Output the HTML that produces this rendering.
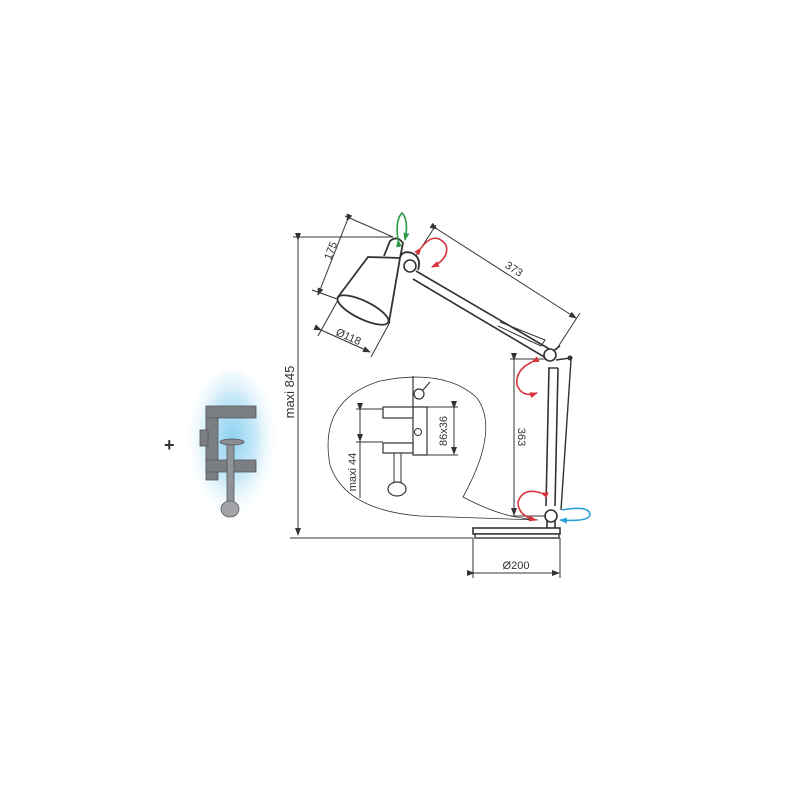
<!DOCTYPE html>
<html><head><meta charset="utf-8"><style>
html,body{margin:0;padding:0;background:#fff;width:800px;height:800px;overflow:hidden}
text{font-family:"Liberation Sans",sans-serif;fill:#333}
</style></head><body>
<svg width="800" height="800" viewBox="0 0 800 800" xmlns="http://www.w3.org/2000/svg">
<defs>
<radialGradient id="glow" cx="50%" cy="40%" r="50%">
<stop offset="0" stop-color="#8ed2f2"/><stop offset="0.5" stop-color="#c8e9f8"/><stop offset="1" stop-color="#fff" stop-opacity="0"/>
</radialGradient>
<marker id="ah" markerWidth="8" markerHeight="6" refX="7" refY="3" orient="auto" markerUnits="userSpaceOnUse"><path d="M0,0 L8,3 L0,6z" fill="#333"/></marker>
<marker id="ar" markerWidth="8" markerHeight="6" refX="7" refY="3" orient="auto" markerUnits="userSpaceOnUse"><path d="M0,0 L8,3 L0,6z" fill="#d8323c"/></marker>
<marker id="ag" markerWidth="8" markerHeight="6" refX="7" refY="3" orient="auto" markerUnits="userSpaceOnUse"><path d="M0,0 L8,3 L0,6z" fill="#2a9a48"/></marker>
<marker id="ab" markerWidth="8" markerHeight="6" refX="7" refY="3" orient="auto" markerUnits="userSpaceOnUse"><path d="M0,0 L8,3 L0,6z" fill="#2aa0d8"/></marker>
</defs>

<!-- clamp photo -->
<ellipse cx="232" cy="455" rx="48" ry="85" fill="url(#glow)"/>
<text x="164" y="451" font-size="18" font-weight="bold" fill="#333">+</text>
<g fill="#7b7e82" stroke="#55585c" stroke-width="0.8">
<rect x="206" y="408" width="12" height="72"/>
<rect x="206" y="406" width="50" height="12"/>
<rect x="206" y="460" width="50" height="12"/>
<rect x="200" y="430" width="8" height="16"/>
<rect x="227" y="442" width="7" height="66" fill="#8f9296"/>
<ellipse cx="230" cy="509" rx="9" ry="8" fill="#a2a4a8"/>
<ellipse cx="232" cy="442" rx="12" ry="3" fill="#8a8c90"/>
</g>

<g stroke="#333" stroke-width="1" fill="none">
<line x1="293" y1="237" x2="393" y2="237"/>
<line x1="290" y1="538" x2="473" y2="538"/>
<line x1="298" y1="240" x2="298" y2="535" marker-start="url(#ah)" marker-end="url(#ah)"/>

<line x1="345" y1="216" x2="393" y2="237"/>
<line x1="312" y1="290" x2="340" y2="300"/>
<line x1="347" y1="221" x2="318" y2="295" marker-start="url(#ah)" marker-end="url(#ah)"/>
<line x1="338" y1="300" x2="318" y2="336"/>
<line x1="390" y1="322" x2="371" y2="357"/>
<line x1="321" y1="330" x2="370" y2="352" marker-start="url(#ah)" marker-end="url(#ah)"/>
<line x1="412" y1="262" x2="436" y2="225"/>
<line x1="556" y1="350" x2="580" y2="313"/>
<line x1="437" y1="229" x2="576" y2="318" marker-start="url(#ah)" marker-end="url(#ah)"/>

<path d="M384,256 L390,241 Q397,235 403,243 L400,258" stroke-width="1.8" fill="#fff"/>
<path d="M368,257 L400,258 L389,322 L338,297 Z" stroke-width="1.8" fill="#fff"/>
<ellipse cx="363" cy="310" rx="28" ry="9" transform="rotate(26 363 310)" stroke-width="1.8" fill="#fff"/>
<path d="M400,258 Q402,250 412,253 Q422,258 418,270" stroke-width="1.8" fill="#fff"/>
<circle cx="410" cy="266" r="6" stroke-width="1.6" fill="#fff"/>
<line x1="416" y1="271" x2="551" y2="350" stroke-width="1.6"/>
<line x1="413" y1="279" x2="546" y2="358" stroke-width="1.6"/>
<path d="M500,322 L545,340 L541,346 L498,326" stroke-width="1"/>
<circle cx="550" cy="355" r="6" stroke-width="1.6" fill="#fff"/>
<line x1="553" y1="351" x2="560" y2="346" stroke-width="1.6"/>
<line x1="556" y1="360" x2="570" y2="358" stroke-width="1.6"/>
<circle cx="570" cy="358" r="2" fill="#333"/>
<line x1="549" y1="368" x2="546" y2="506" stroke-width="1.6"/>
<line x1="558" y1="368" x2="555" y2="506" stroke-width="1.6"/>
<line x1="571" y1="360" x2="561" y2="510" stroke-width="1.4"/>
<line x1="548" y1="368" x2="558" y2="368" stroke-width="1.4"/>
<circle cx="551" cy="516" r="6" stroke-width="1.6" fill="#fff"/>
<line x1="547" y1="521" x2="547" y2="528" stroke-width="1.6"/>
<line x1="555" y1="521" x2="555" y2="528" stroke-width="1.6"/>
<rect x="473" y="528" width="87" height="6" stroke-width="1.6" fill="#fff"/>
<rect x="475" y="534" width="84" height="4" stroke-width="1.4" fill="#fff"/>
<line x1="510" y1="359" x2="545" y2="359"/>
<line x1="510" y1="516" x2="545" y2="516"/>
<line x1="514" y1="360" x2="514" y2="515" marker-start="url(#ah)" marker-end="url(#ah)"/>
<line x1="473" y1="538" x2="473" y2="578"/>
<line x1="560" y1="538" x2="560" y2="578"/>
<line x1="474" y1="573" x2="559" y2="573" marker-start="url(#ah)" marker-end="url(#ah)"/>

<!-- bubble -->
<path d="M463,497 C495,514 515,518 538,520 L420,516 Q345,510 330,465 Q318,400 380,381 Q445,368 477,398 Q500,430 463,497 Z" stroke-width="0.8"/>

<!-- clamp detail -->
<path d="M413,376 L413,407 L427,407 L427,455 L413,455 Z" stroke-width="1.2" fill="#fff"/>
<rect x="383" y="407" width="30" height="11" stroke-width="1.2" fill="#fff"/>
<rect x="383" y="443" width="30" height="10" stroke-width="1.2" fill="#fff"/>
<rect x="394" y="453" width="7" height="30" stroke-width="1"/>
<ellipse cx="397" cy="489" rx="9" ry="7" stroke-width="1.2" fill="#fff"/>
<circle cx="418" cy="432" r="3.5" stroke-width="1"/>
<circle cx="419" cy="394" r="5" stroke-width="1.2" fill="#fff"/>
<line x1="423" y1="390" x2="430" y2="382" stroke-width="1.2"/>
<line x1="427" y1="407" x2="458" y2="407"/>
<line x1="427" y1="455" x2="458" y2="455"/>
<line x1="454" y1="408" x2="454" y2="454" marker-start="url(#ah)" marker-end="url(#ah)"/>
<line x1="356" y1="409" x2="383" y2="409"/>
<line x1="356" y1="442" x2="383" y2="442"/>
<line x1="360" y1="410" x2="360" y2="441" marker-start="url(#ah)" marker-end="url(#ah)"/>
<line x1="360" y1="441" x2="360" y2="498"/>
</g>

<g fill="none" stroke-width="1.6">
<path d="M398,240 Q395,220 402,213 Q409,220 405,240" stroke="#2a9a48" marker-end="url(#ag)" marker-start="url(#ag)"/>
<path d="M421,248 Q435,230 446,245 Q450,258 432,267" stroke="#d8323c" marker-start="url(#ar)" marker-end="url(#ar)"/>
<path d="M532,362 Q515,370 517,385 Q522,398 537,393" stroke="#d8323c" marker-start="url(#ar)" marker-end="url(#ar)"/>
<path d="M541,493 Q523,487 518,502 Q518,516 536,520" stroke="#d8323c" marker-start="url(#ar)" marker-end="url(#ar)"/>
<path d="M562,510 Q590,505 590,515 Q588,522 560,520" stroke="#2aa0d8" marker-end="url(#ab)"/>
</g>

<g font-size="11">
<text transform="translate(294,392) rotate(-90)" text-anchor="middle" font-size="13">maxi 845</text>
<text transform="translate(334,252) rotate(-69)" text-anchor="middle">175</text>
<text transform="translate(347,340) rotate(24)" text-anchor="middle">Ø118</text>
<text transform="translate(512,272) rotate(33)" text-anchor="middle">373</text>
<text transform="translate(518,437) rotate(90)" text-anchor="middle">363</text>
<text x="516" y="569" text-anchor="middle">Ø200</text>
<text transform="translate(447,431) rotate(-90)" text-anchor="middle">86x36</text>
<text transform="translate(356,472) rotate(-90)" text-anchor="middle">maxi 44</text>
</g>
</svg>
</body></html>
